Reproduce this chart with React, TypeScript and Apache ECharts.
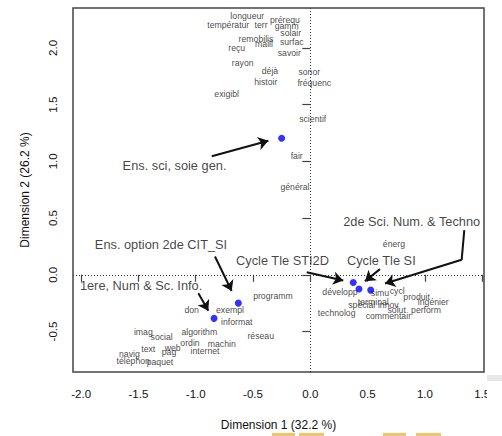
import React, { useEffect, useRef } from "react";
import * as echarts from "echarts";

// ---- data ----
const wordLabels = [
  "longueur", "températur", "terr", "prérequ", "gamm", "solair", "remobilis", "maill",
  "surfac", "reçu", "savoir", "rayon", "déjà", "sonor", "histoir", "fréquenc", "exigibl",
  "scientif", "fair", "général", "énerg", "développ", "simu", "cycl", "produit",
  "ingénier", "spécial", "terminal", "innov", "solut", "perform", "technolog",
  "commentair", "programm", "don", "exempl", "informat", "réseau", "imag", "social",
  "algorithm", "ordin", "machin", "web", "text", "pag", "internet", "navig",
  "téléphon", "paquet",
];
const wordX = [
  -0.55, -0.716, -0.43, -0.221, -0.206, -0.171, -0.474, -0.404,
  -0.162, -0.642, -0.183, -0.59, -0.352, -0.009, -0.389, 0.035, -0.73,
  0.021, -0.119, -0.134, 0.73, 0.259, 0.608, 0.759, 0.928,
  1.073, 0.449, 0.55, 0.681, 0.754, 1.01, 0.23,
  0.681, -0.326, -1.035, -0.701, -0.642, -0.433, -1.457, -1.297,
  -0.969, -1.05, -0.773, -1.201, -1.414, -1.233, -0.919, -1.579,
  -1.545, -1.312,
];
const wordY = [
  2.285, 2.204, 2.198, 2.242, 2.19, 2.132, 2.08, 2.039,
  2.05, 2.002, 1.958, 1.871, 1.798, 1.79, 1.703, 1.689, 1.59,
  1.372, 1.045, 0.776, 0.268, -0.15, -0.163, -0.143, -0.193,
  -0.237, -0.268, -0.237, -0.268, -0.311, -0.309, -0.341,
  -0.361, -0.187, -0.311, -0.311, -0.419, -0.543, -0.506, -0.55,
  -0.506, -0.602, -0.613, -0.642, -0.657, -0.685, -0.674, -0.7,
  -0.761, -0.767,
];

const pointX = [-0.25, -0.628, -0.84, 0.375, 0.425, 0.527];
const pointY = [1.204, -0.25, -0.384, -0.068, -0.126, -0.135];

const annotationTexts = [
  "Ens. sci, soie gen.",
  "Ens. option 2de CIT_SI",
  "1ere, Num & Sc. Info.",
  "Cycle Tle STI2D",
  "Cycle Tle SI",
  "2de Sci. Num. & Techno",
];
const annotationX = [-1.185, -1.303, -1.477, -0.243, 0.62, 0.885];
const annotationY = [0.961, 0.263, -0.091, 0.13, 0.123, 0.474];

// arrow paths (data coordinates), arrowhead at last point
const arrowPaths: number[][][] = [
  [[-0.86, 1.045], [-0.366, 1.181]],
  [[-0.832, 0.161], [-0.686, -0.143]],
  [[-0.977, -0.163], [-0.89, -0.317]],
  [[-0.031, 0.022], [0.288, -0.05]],
  [[0.608, 0.05], [0.477, -0.057]],
  [[1.344, 0.393], [1.321, 0.132], [0.652, -0.077]],
];

const xTicks = [-2, -1.5, -1, -0.5, 0, 0.5, 1, 1.5];
const yTicks = [-0.5, 0, 0.5, 1, 1.5, 2];
const xRange = [-2.071, 1.516];
const yRange = [-0.857, 2.352];
const xTitle = "Dimension 1 (32.2 %)";
const yTitle = "Dimension 2 (26.2 %)";

const FONT = "'Liberation Sans', Arial, Helvetica, sans-serif";

export default function App() {
  const ref = useRef<HTMLDivElement>(null);

  useEffect(() => {
    if (!ref.current) return;
    const chart = echarts.init(ref.current, null, { renderer: "svg" });

    const arrowSegments: any[] = [];
    arrowPaths.forEach((path) => {
      for (let i = 0; i < path.length - 1; i++) {
        const last = i === path.length - 2;
        arrowSegments.push([
          { coord: path[i], symbol: "none" },
          { coord: path[i + 1], symbol: last ? "arrow" : "none", symbolSize: 10 },
        ]);
      }
    });

    chart.setOption({
      animation: false,
      textStyle: { fontFamily: FONT },
      grid: {
        left: 73,
        right: 18,
        top: 8,
        bottom: 59,
        show: true,
        borderColor: "#444",
        borderWidth: 1.5,
        backgroundColor: "transparent",
      },
      xAxis: {
        type: "value",
        min: xRange[0],
        max: xRange[1],
        name: xTitle,
        nameLocation: "middle",
        nameGap: 47,
        nameTextStyle: { fontSize: 12, color: "#111", fontFamily: FONT },
        axisLine: { show: false },
        splitLine: { show: false },
        axisTick: {
          show: true,
          inside: false,
          length: 7,
          customValues: xTicks,
          lineStyle: { color: "#444", width: 1.2 },
        },
        axisLabel: {
          customValues: xTicks,
          margin: 16,
          fontSize: 11.5,
          color: "#111",
          fontFamily: FONT,
          formatter: (v: number) => v.toFixed(1),
        },
      },
      yAxis: {
        type: "value",
        min: yRange[0],
        max: yRange[1],
        name: yTitle,
        nameLocation: "middle",
        nameGap: 42,
        nameTextStyle: { fontSize: 12, color: "#111", fontFamily: FONT },
        axisLine: { show: false },
        splitLine: { show: false },
        axisTick: {
          show: true,
          inside: false,
          length: 8,
          customValues: yTicks,
          lineStyle: { color: "#444", width: 1.2 },
        },
        axisLabel: {
          customValues: yTicks,
          rotate: 90,
          margin: 14,
          fontSize: 11.5,
          color: "#111",
          fontFamily: FONT,
          formatter: (v: number) => v.toFixed(1),
        },
      },
      series: [
        {
          name: "words",
          type: "scatter",
          z: 2,
          symbolSize: 1,
          itemStyle: { color: "rgba(0,0,0,0)" },
          silent: true,
          label: {
            show: true,
            position: "inside",
            formatter: (p: any) => p.data[2],
            fontSize: 8.7,
            color: "#111",
            fontFamily: FONT,
          },
          data: wordLabels.map((w, i) => [wordX[i], wordY[i], w]),
          markLine: {
            silent: true,
            symbol: ["none", "none"],
            label: { show: false },
            lineStyle: { type: [1, 2], color: "#333", width: 1 },
            data: [{ xAxis: 0 }, { yAxis: 0 }],
          },
        },
        {
          name: "points",
          type: "scatter",
          z: 4,
          symbol: "circle",
          symbolSize: 7,
          itemStyle: { color: "#0000ff" },
          silent: true,
          data: pointX.map((x, i) => [x, pointY[i]]),
        },
        {
          name: "annotations",
          type: "scatter",
          z: 5,
          symbolSize: 1,
          itemStyle: { color: "rgba(0,0,0,0)" },
          silent: true,
          label: {
            show: true,
            position: "inside",
            formatter: (p: any) => p.data[2],
            fontSize: 12.8,
            color: "#111",
            fontFamily: FONT,
          },
          data: annotationTexts.map((t, i) => [annotationX[i], annotationY[i], t]),
          markLine: {
            silent: true,
            symbol: ["none", "arrow"],
            symbolSize: 10,
            label: { show: false },
            lineStyle: { type: "solid", color: "#111", width: 2 },
            data: arrowSegments,
          },
        },
      ],
      graphic: [
        { type: "rect", shape: { x: 487, y: 385, width: 15, height: 26 }, style: { fill: "#fff" }, z: 100 },
        { type: "rect", shape: { x: 487, y: 375, width: 15, height: 6 }, style: { fill: "#e8e8e8" }, z: 100 },
        { type: "rect", shape: { x: 272, y: 433, width: 23, height: 3 }, style: { fill: "#f2c46a" }, z: 100 },
        { type: "rect", shape: { x: 299, y: 433, width: 25, height: 3 }, style: { fill: "#f2c46a" }, z: 100 },
        { type: "rect", shape: { x: 383, y: 433, width: 23, height: 3 }, style: { fill: "#f2c46a" }, z: 100 },
        { type: "rect", shape: { x: 416, y: 433, width: 25, height: 3 }, style: { fill: "#f2c46a" }, z: 100 },
      ],
    });

    return () => chart.dispose();
  }, []);

  return (
    <div
      ref={ref}
      style={{ position: "fixed", left: 0, top: 0, width: 502, height: 436, background: "#fff" }}
    />
  );
}
